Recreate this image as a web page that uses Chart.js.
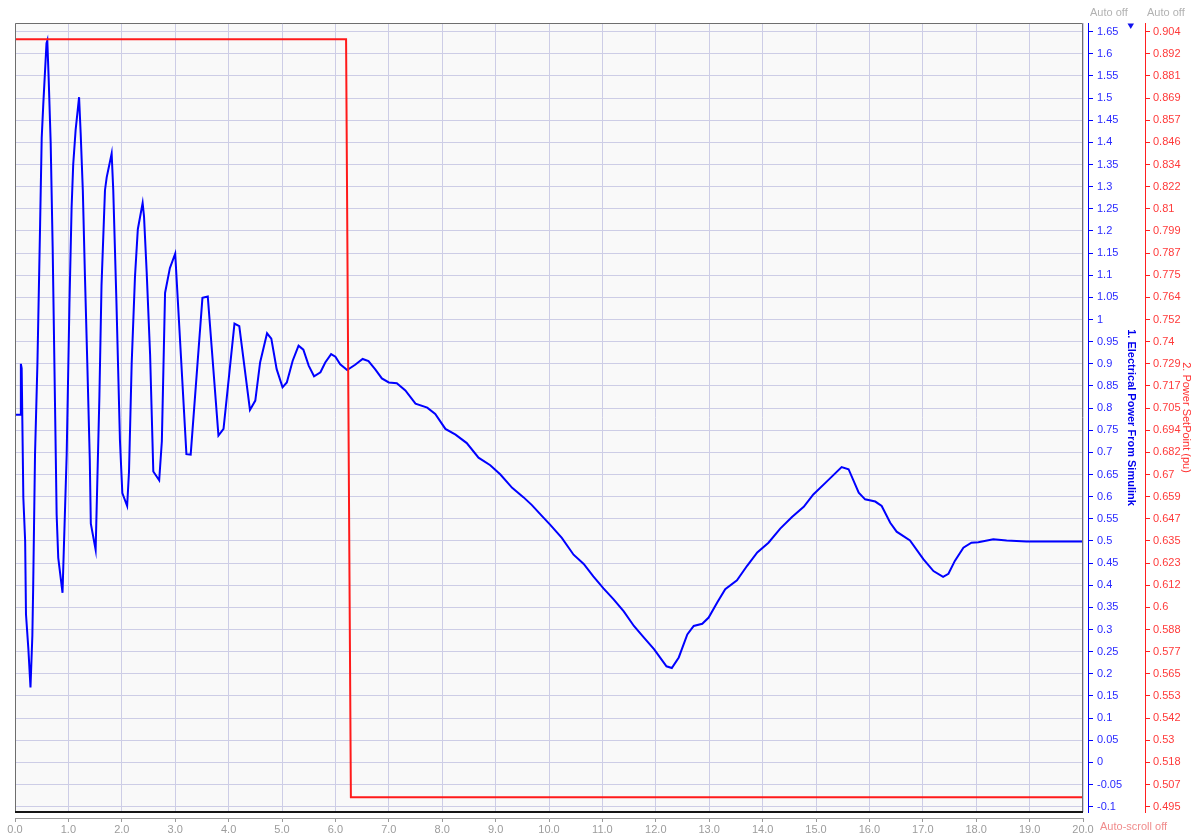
<!DOCTYPE html>
<html><head><meta charset="utf-8">
<style>html,body{margin:0;padding:0;background:#fff;overflow:hidden}#wrap{width:1197px;height:839px}</style>
<script src="https://cdn.jsdelivr.net/npm/chart.js@4/dist/chart.umd.min.js"></script>
</head><body><div id="wrap"><canvas id="c" width="1197" height="839"></canvas></div>
<script>
// ---- data ----
const powerTime = [0,0.10,0.11,0.125,0.156,0.19,0.206,0.25,0.29,0.325,0.34,0.375,0.42,0.47,0.50,0.53,0.59,0.605,0.63,0.668,0.705,0.75,0.78,0.81,0.89,0.936,0.968,1.02,1.06,1.09,1.136,1.20,1.23,1.27,1.31,1.354,1.40,1.42,1.51,1.54,1.58,1.62,1.685,1.717,1.81,1.84,1.90,1.966,2.01,2.10,2.135,2.185,2.247,2.30,2.39,2.416,2.466,2.53,2.59,2.70,2.75,2.81,2.90,3.00,3.21,3.29,3.51,3.61,3.81,3.905,4.11,4.20,4.40,4.50,4.59,4.72,4.80,4.90,5.01,5.09,5.20,5.31,5.40,5.50,5.60,5.72,5.81,5.92,6.00,6.09,6.22,6.37,6.51,6.62,6.75,6.87,7.00,7.15,7.31,7.50,7.72,7.87,8.06,8.25,8.46,8.68,8.90,9.09,9.31,9.52,9.68,9.87,10.02,10.24,10.46,10.65,10.83,11.02,11.21,11.40,11.59,11.77,11.97,12.20,12.30,12.43,12.59,12.71,12.87,12.99,13.15,13.30,13.52,13.71,13.90,14.11,14.33,14.55,14.77,14.95,15.20,15.48,15.61,15.80,15.92,16.11,16.23,16.39,16.51,16.76,17.01,17.20,17.38,17.48,17.60,17.76,17.91,18.04,18.32,18.57,18.94,20.00];
const powerValue = [0.785,0.785,0.90,0.89,0.598,0.50,0.334,0.257,0.169,0.286,0.392,0.696,0.901,1.214,1.41,1.487,1.624,1.63,1.546,1.40,1.165,0.803,0.559,0.462,0.383,0.568,0.696,1.038,1.253,1.35,1.429,1.502,1.42,1.292,1.097,0.901,0.686,0.539,0.48,0.627,0.824,1.077,1.292,1.321,1.375,1.292,1.038,0.725,0.608,0.579,0.657,0.901,1.097,1.204,1.263,1.233,1.107,0.921,0.657,0.637,0.725,1.06,1.116,1.149,0.696,0.695,1.049,1.052,0.738,0.753,0.991,0.985,0.796,0.817,0.903,0.969,0.957,0.888,0.847,0.858,0.907,0.941,0.932,0.896,0.872,0.881,0.903,0.922,0.916,0.899,0.886,0.898,0.911,0.906,0.887,0.867,0.858,0.856,0.840,0.810,0.801,0.787,0.753,0.740,0.721,0.688,0.671,0.650,0.620,0.599,0.581,0.556,0.537,0.507,0.469,0.448,0.420,0.393,0.368,0.341,0.308,0.283,0.255,0.217,0.213,0.237,0.289,0.308,0.313,0.327,0.361,0.391,0.411,0.444,0.474,0.496,0.528,0.554,0.577,0.605,0.634,0.667,0.662,0.609,0.594,0.589,0.579,0.541,0.521,0.501,0.459,0.432,0.419,0.426,0.455,0.485,0.496,0.497,0.504,0.501,0.499,0.499];
const setPointTime = [0, 6.20, 6.29, 20];
const setPointValue = [0.9, 0.9, 0.5, 0.5];
const xTickLabels = ["0.0","1.0","2.0","3.0","4.0","5.0","6.0","7.0","8.0","9.0","10.0","11.0","12.0","13.0","14.0","15.0","16.0","17.0","18.0","19.0","20.0"];
const powerTickLabels = ["1.65","1.6","1.55","1.5","1.45","1.4","1.35","1.3","1.25","1.2","1.15","1.1","1.05","1","0.95","0.9","0.85","0.8","0.75","0.7","0.65","0.6","0.55","0.5","0.45","0.4","0.35","0.3","0.25","0.2","0.15","0.1","0.05","0","-0.05","-0.1"];
const setPointTickLabels = ["0.904","0.892","0.881","0.869","0.857","0.846","0.834","0.822","0.81","0.799","0.787","0.775","0.764","0.752","0.74","0.729","0.717","0.705","0.694","0.682","0.67","0.659","0.647","0.635","0.623","0.612","0.6","0.588","0.577","0.565","0.553","0.542","0.53","0.518","0.507","0.495"];
const powerAxisRange = [-0.112, 1.6696];
const titlePower = "1. Electrical Power From Simulink";
const titleSetPoint = "2. Power SetPoint (pu)";

// ---- derived ----
const FONT = '"Liberation Sans", Arial, sans-serif';
const b0 = parseFloat(powerTickLabels[0]), b1 = parseFloat(powerTickLabels[powerTickLabels.length-1]);
const r0 = parseFloat(setPointTickLabels[0]), r1 = parseFloat(setPointTickLabels[setPointTickLabels.length-1]);
const k = (r1 - r0) / (b1 - b0);
const redMin = r0 + (powerAxisRange[0] - b0) * k;
const redMax = r0 + (powerAxisRange[1] - b0) * k;
const nR = setPointTickLabels.length;

const deco = {
  id: 'deco',
  beforeDraw(chart) {
    const {ctx, chartArea: a} = chart;
    ctx.save(); ctx.fillStyle = '#f9f9f9';
    ctx.fillRect(a.left, a.top, a.right - a.left, a.bottom - a.top); ctx.restore();
  },
  afterDraw(chart) {
    const {ctx, chartArea: a} = chart;
    ctx.save();
    ctx.strokeStyle = '#6e6e6e'; ctx.lineWidth = 1;
    ctx.beginPath();
    ctx.moveTo(a.left + 0.5, a.bottom); ctx.lineTo(a.left + 0.5, a.top + 0.5);
    ctx.lineTo(a.right - 0.5, a.top + 0.5); ctx.lineTo(a.right - 0.5, a.bottom);
    ctx.stroke();
    ctx.strokeStyle = '#151515'; ctx.lineWidth = 2;
    ctx.beginPath(); ctx.moveTo(a.left, a.bottom); ctx.lineTo(a.right, a.bottom); ctx.stroke();
    const yB = chart.scales.y, yR = chart.scales.y2, x = chart.scales.x;
    ctx.font = '11px ' + FONT; ctx.textBaseline = 'middle'; ctx.textAlign = 'left';
    ctx.fillStyle = '#b2b2b2';
    ctx.fillText('Auto off', yB.left + 2, 13);
    ctx.fillText('Auto off', yR.left + 2, 13);
    ctx.fillStyle = '#f08c8c';
    ctx.fillText('Auto-scroll off', x.right + 17, 827);
    ctx.fillStyle = '#1010ee';
    ctx.beginPath(); ctx.moveTo(1127.5, 23.5); ctx.lineTo(1134, 23.5); ctx.lineTo(1130.75, 29); ctx.closePath(); ctx.fill();
    ctx.restore();
  }
};

const gridCol = '#cdcde6';
new Chart(document.getElementById('c'), {
  type: 'line',
  data: {
    datasets: [
      { label: titlePower, data: powerTime.map((t, i) => ({x: t, y: powerValue[i]})),
        borderColor: '#0000ff', borderWidth: 2, pointRadius: 0, tension: 0, fill: false,
        xAxisID: 'x', yAxisID: 'y', order: 1 },
      { label: titleSetPoint, data: setPointTime.map((t, i) => ({x: t, y: setPointValue[i]})),
        borderColor: '#ff1a1a', borderWidth: 2, pointRadius: 0, tension: 0, fill: false,
        xAxisID: 'x', yAxisID: 'y2', order: 0 }
    ]
  },
  options: {
    responsive: false, animation: false, events: [],
    layout: { padding: { left: 15, top: 23, right: 0, bottom: 0 } },
    plugins: { legend: { display: false }, tooltip: { enabled: false } },
    scales: {
      x: {
        type: 'linear', position: 'bottom', weight: 1, min: 0, max: 20,
        afterBuildTicks: s => { s.ticks = xTickLabels.map(l => ({value: parseFloat(l)})); },
        afterFit: s => { s.height = 21; },
        ticks: { color: '#9c9c9c', font: { family: FONT, size: 11 }, padding: 1, maxRotation: 0, autoSkip: false,
                 callback: (v, i) => xTickLabels[i] },
        grid: { color: gridCol, tickColor: '#9a9a9a', tickLength: 4, lineWidth: 1 },
        border: { display: true, color: '#9a9a9a', width: 1 }
      },
      gapB: {
        type: 'linear', position: 'bottom', weight: 0, display: true,
        afterFit: s => { s.height = 6; },
        ticks: { display: false }, grid: { display: false }, border: { display: false }
      },
      gapR: {
        type: 'linear', position: 'right', weight: 0, display: true,
        afterFit: s => { s.width = 5; },
        ticks: { display: false }, grid: { display: false }, border: { display: false }
      },
      y: {
        type: 'linear', position: 'right', weight: 1, min: powerAxisRange[0], max: powerAxisRange[1],
        afterBuildTicks: s => { s.ticks = powerTickLabels.map(l => ({value: parseFloat(l)})); },
        afterFit: s => { s.width = 57; },
        ticks: { color: '#2a2aff', font: { family: FONT, size: 11 }, padding: 4, autoSkip: false,
                 callback: (v, i) => powerTickLabels[i] },
        grid: { color: gridCol, tickColor: '#0000ff', tickLength: 5, drawOnChartArea: true },
        border: { display: true, color: '#0000ff', width: 1 },
        title: { display: true, text: titlePower, color: '#0000ee',
                 font: { family: FONT, size: 11, weight: 'bold' }, padding: { top: 7, bottom: 0 } }
      },
      y2: {
        type: 'linear', position: 'right', weight: 2, min: redMin, max: redMax,
        afterBuildTicks: s => { s.ticks = setPointTickLabels.map((l, i) => ({value: r0 + i * (r1 - r0) / (nR - 1)})); },
        afterFit: s => { s.width = 52; },
        ticks: { color: '#ff3a3a', font: { family: FONT, size: 11 }, padding: 3, autoSkip: false,
                 callback: (v, i) => setPointTickLabels[i] },
        grid: { color: gridCol, tickColor: '#ff2020', tickLength: 5, drawOnChartArea: false },
        border: { display: true, color: '#ff2020', width: 1 },
        title: { display: true, text: titleSetPoint, color: '#ff3030',
                 font: { family: FONT, size: 11 }, padding: { top: 4, bottom: 0 } }
      }
    }
  },
  plugins: [deco]
});
</script>
</body></html>
